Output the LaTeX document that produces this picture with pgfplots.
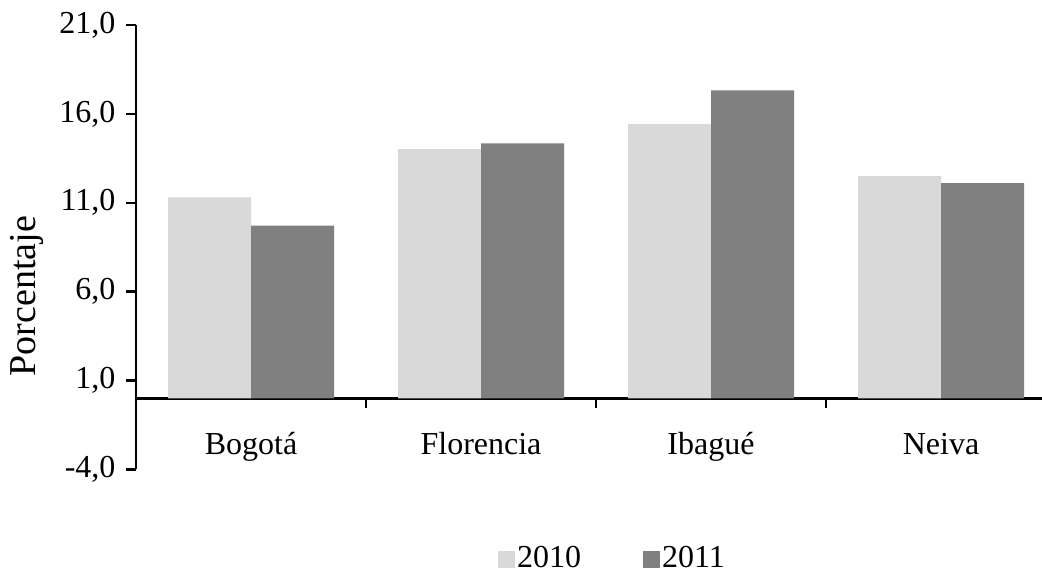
\documentclass[border=0pt]{standalone}
\usepackage{fontspec}
\setmainfont{Liberation Serif}
\usepackage{pgfplots}
\pgfplotsset{compat=1.18}
\definecolor{bar2010}{HTML}{D9D9D9}
\definecolor{bar2011}{HTML}{808080}
\begin{document}
\fontsize{16pt}{19pt}\selectfont
\begin{tikzpicture}
\useasboundingbox (0,0) rectangle (521pt,286.5pt);
\begin{axis}[
  at={(68pt,51.8pt)}, anchor=south west,
  scale only axis, width=460pt, height=222.15pt,
  xmin=-0.5, xmax=3.5, ymin=-4, ymax=21,
  axis x line*=middle, axis y line*=left,
  hide obscured x ticks=false,
  axis line style={line width=1.3pt, black},
  tick style={line width=1.3pt, black},
  tick align=outside, major tick length=4.75pt,
  ytick={-4,1,6,11,16,21},
  yticklabel style={/pgf/number format/.cd, fixed, fixed zerofill, precision=1, use comma, assume math mode=true},
  xtick={0.5,1.5,2.5}, xticklabels={},
  extra x ticks={0,1,2,3},
  extra x tick labels={Bogotá,Florencia,Ibagué,Neiva},
  extra x tick style={major tick length=0pt, xticklabel style={anchor=base, yshift=-28pt}},
  ylabel={Porcentaje},
  ylabel style={at={(axis description cs:-0.1185,0.390)}, anchor=center, font=\fontsize{19pt}{22pt}\selectfont},
  ybar=0pt, bar width=41.5pt,
  legend columns=2,
  legend style={draw=none, fill=none, at={(axis description cs:0.518,-0.202)}, anchor=center,
    /tikz/every even column/.append style={column sep=30pt},
    nodes={inner sep=1pt}},
  legend image code/.code={\fill[#1] (0pt,-4.25pt) rectangle (8.5pt,4.25pt);},
]
\addplot[fill=bar2010, draw=none] coordinates {(0,11.30) (1,14.02) (2,15.43) (3,12.50)};
\addplot[fill=bar2011, draw=none] coordinates {(0,9.71) (1,14.34) (2,17.32) (3,12.11)};
\legend{2010,2011}
\end{axis}
\end{tikzpicture}
\end{document}
